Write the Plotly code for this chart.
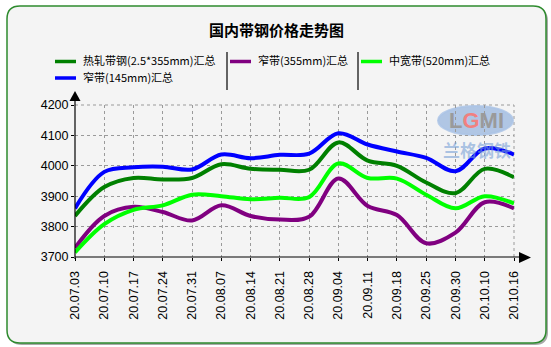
import plotly.graph_objects as go

dates = ["20.07.03", "20.07.10", "20.07.17", "20.07.24", "20.07.31", "20.08.07",
         "20.08.14", "20.08.21", "20.08.28", "20.09.04", "20.09.11", "20.09.18",
         "20.09.25", "20.09.30", "20.10.10", "20.10.16"]
hot_strip = [3835, 3930, 3960, 3955, 3960, 4005, 3990, 3987, 3987, 4077, 4017, 4000, 3945, 3910, 3990, 3962]
narrow_355 = [3730, 3835, 3865, 3848, 3820, 3870, 3835, 3823, 3832, 3958, 3868, 3838, 3745, 3780, 3880, 3860]
mid_520 = [3715, 3808, 3855, 3870, 3905, 3900, 3890, 3895, 3897, 4008, 3960, 3958, 3905, 3860, 3900, 3876]
narrow_145 = [3860, 3980, 3995, 3997, 3988, 4037, 4025, 4036, 4040, 4107, 4070, 4047, 4026, 3982, 4057, 4037]

series_names = ["热轧带钢(2.5*355mm)汇总", "窄带(355mm)汇总", "中宽带(520mm)汇总", "窄带(145mm)汇总"]
series_colors = ["#008000", "#800080", "#00ff00", "#0000ff"]
series_values = [hot_strip, narrow_355, mid_520, narrow_145]
y_ticks = [3700, 3800, 3900, 4000, 4100, 4200]
title_text = "国内带钢价格走势图"

W, H = 551, 347
L, R, T, B = 75, 514, 105, 257
FONT = "Liberation Sans, Arial, Noto Sans CJK SC, sans-serif"
CJK = "Noto Sans CJK SC, Liberation Sans, sans-serif"
GRID = "#9a9a9a"


def px(x):
    return (x - L) / (R - L)


def py(y):
    return (B - y) / (B - T)


def rounded_rect(x0, y0, x1, y1, r):
    return (f"M {px(x0 + r)},{py(y0)} L {px(x1 - r)},{py(y0)} Q {px(x1)},{py(y0)} {px(x1)},{py(y0 + r)} "
            f"L {px(x1)},{py(y1 - r)} Q {px(x1)},{py(y1)} {px(x1 - r)},{py(y1)} "
            f"L {px(x0 + r)},{py(y1)} Q {px(x0)},{py(y1)} {px(x0)},{py(y1 - r)} "
            f"L {px(x0)},{py(y0 + r)} Q {px(x0)},{py(y0)} {px(x0 + r)},{py(y0)} Z")


fig = go.Figure()
for name, color, vals in zip(series_names, series_colors, series_values):
    fig.add_trace(go.Scatter(x=dates, y=vals, name=name, mode="lines",
                             line=dict(color=color, width=4, shape="spline", smoothing=1),
                             showlegend=False))

shapes = []
# shadow + background panel
shapes.append(dict(type="path", xref="paper", yref="paper", layer="below",
                   path=rounded_rect(9, 8, 548, 345, 13), fillcolor="#a9a9a9",
                   line=dict(width=0)))
shapes.append(dict(type="path", xref="paper", yref="paper", layer="below",
                   path=rounded_rect(7, 6, 546, 343, 13), fillcolor="#f4f4f4",
                   line=dict(color="#2e8b2e", width=1.5)))
# edge grid lines (top and right)
shapes.append(dict(type="line", xref="paper", yref="paper", layer="below", x0=0, x1=1, y0=1, y1=1,
                   line=dict(color=GRID, width=1, dash="dot")))
shapes.append(dict(type="line", xref="paper", yref="paper", layer="below", x0=1, x1=1, y0=0, y1=1,
                   line=dict(color=GRID, width=1, dash="dot")))
# watermark logo ellipse
shapes.append(dict(type="circle", xref="paper", yref="paper", layer="below",
                   x0=px(438), x1=px(513), y0=py(106), y1=py(135),
                   fillcolor="rgba(120,160,215,0.55)", line=dict(color="rgba(170,195,230,0.8)", width=2)))
# axes lines
shapes.append(dict(type="line", xref="paper", yref="paper", x0=px(L), x1=px(521), y0=py(B), y1=py(B),
                   line=dict(color="black", width=1.2)))
shapes.append(dict(type="line", xref="paper", yref="paper", x0=px(L), x1=px(L), y0=py(B + 2), y1=py(100),
                   line=dict(color="black", width=1.2)))
# arrows
shapes.append(dict(type="path", xref="paper", yref="paper",
                   path=f"M {px(519)},{py(252)} L {px(531)},{py(257.5)} L {px(519)},{py(263)} Z",
                   fillcolor="black", line=dict(width=0)))
shapes.append(dict(type="path", xref="paper", yref="paper",
                   path=f"M {px(69.5)},{py(101)} L {px(75)},{py(91)} L {px(80.5)},{py(101)} Z",
                   fillcolor="black", line=dict(width=0)))

annotations = [dict(text=f"<b>{title_text}</b>", xref="paper", yref="paper", x=px(276), y=py(29),
                    showarrow=False, font=dict(family=CJK, size=15, color="black"),
                    xanchor="center", yanchor="middle")]

# legend (drawn manually)
legend_pos = [(55, 60.5), (230, 60.5), (361, 60.5), (55, 77)]
for (lx, ly), name, color in zip(legend_pos, series_names, series_colors):
    shapes.append(dict(type="line", xref="paper", yref="paper", x0=px(lx), x1=px(lx + 21),
                       y0=py(ly + 1), y1=py(ly + 1), line=dict(color=color, width=3.5)))
    annotations.append(dict(text=name, xref="paper", yref="paper", x=px(lx + 26), y=py(ly),
                            showarrow=False, xanchor="left", yanchor="middle",
                            font=dict(family=CJK, size=11, color="black")))
for sx in (227, 358):
    shapes.append(dict(type="line", xref="paper", yref="paper", x0=px(sx), x1=px(sx),
                       y0=py(52), y1=py(90), line=dict(color="#333333", width=1.5)))

# watermark text
annotations.append(dict(text="<b>L<span style='color:#f08080'>G</span>MI</b>", xref="paper", yref="paper",
                        x=px(476), y=py(120), showarrow=False, xanchor="center", yanchor="middle",
                        font=dict(family=FONT, size=22, color="#9a9a9a")))
annotations.append(dict(text="<b>兰格钢铁</b>", xref="paper", yref="paper",
                        x=px(477), y=py(149), showarrow=False, xanchor="center", yanchor="middle",
                        font=dict(family=CJK, size=17, color="rgba(120,160,215,0.6)")))

fig.update_layout(
    width=W, height=H,
    margin=dict(l=L, r=W - R, t=T, b=H - B, pad=0),
    paper_bgcolor="white", plot_bgcolor="rgba(0,0,0,0)",
    shapes=shapes, annotations=annotations, showlegend=False,
    xaxis=dict(type="category", range=[0, len(dates) - 1], showgrid=True,
               gridcolor=GRID, griddash="dot", gridwidth=1, zeroline=False, showline=False,
               ticks="outside", ticklen=3, tickcolor="black", tickangle=-90, ticklabelstandoff=5,
               tickfont=dict(family=FONT, size=12.5, color="black"), automargin=False),
    yaxis=dict(range=[y_ticks[0], y_ticks[-1]], tickvals=y_ticks, showgrid=True,
               gridcolor=GRID, griddash="dot", gridwidth=1, zeroline=False, showline=False,
               ticks="outside", ticklen=3, tickcolor="black",
               tickfont=dict(family=FONT, size=12.5, color="black"), automargin=False),
)

fig.write_html("out.html")
